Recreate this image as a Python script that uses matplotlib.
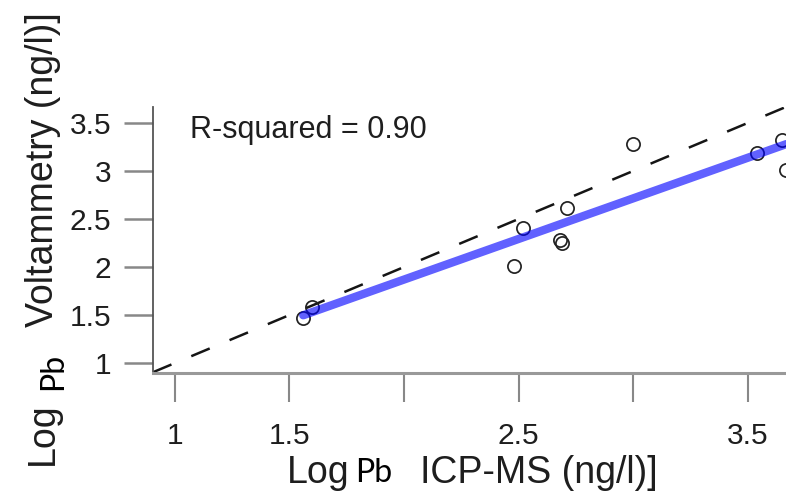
import matplotlib
matplotlib.use("Agg")
import matplotlib.pyplot as plt
import numpy as np

# ---- data ----
icpms = np.array([1.56, 1.60, 2.48, 2.52, 2.68, 2.69, 2.71, 3.00, 3.54, 3.65, 3.67])
voltam = np.array([1.47, 1.58, 2.01, 2.41, 2.28, 2.25, 2.61, 3.28, 3.19, 3.32, 3.01])
x_ticks = [1, 1.5, 2, 2.5, 3, 3.5]
x_ticklabels = ["1", "1.5", "", "2.5", "", "3.5"]
y_ticks = [1, 1.5, 2, 2.5, 3, 3.5]
y_ticklabels = ["1", "1.5", "2", "2.5", "3", "3.5"]
r2_text = "R-squared = 0.90"

W, H = 786, 495
fig = plt.figure(figsize=(W / 100, H / 100), dpi=100)
fig.patch.set_facecolor("white")


def fx(px):
    return px / W


def fy(py):
    return 1 - py / H


ax = fig.add_axes([fx(153), fy(373), fx(786) - fx(153), fy(107) - fy(373)])
ax.set_xlim(0.904, 3.668)
ax.set_ylim(0.896, 3.667)

TXT = "#1e1e1e"
SANS = ["Liberation Sans", "DejaVu Sans"]

# identity line
ax.axline((1, 1), slope=1, color="#151515", lw=1.8, dashes=(8, 8.6), zorder=2)

# points
ax.plot(icpms, voltam, linestyle="none", marker="o", ms=9.5, mfc="none",
        mec="#222222", mew=1.25, zorder=3)

# regression line
coef = np.polyfit(icpms, voltam, 1)
xs = np.array([icpms.min(), icpms.max()])
ax.plot(xs, np.polyval(coef, xs), color="blue", alpha=0.62, lw=6,
        solid_capstyle="round", zorder=4)

ax.text(1.066, 3.43, r2_text, fontsize=22, family=SANS, color=TXT,
        ha="left", va="center")

# axes styling
for s in ["top", "right"]:
    ax.spines[s].set_visible(False)
ax.spines["left"].set_color("#555555")
ax.spines["left"].set_linewidth(1.3)
ax.spines["bottom"].set_color("#999999")
ax.spines["bottom"].set_linewidth(2.2)

ax.set_xticks(x_ticks)
ax.set_xticklabels(x_ticklabels, family=SANS, fontsize=21.5, color=TXT)
ax.set_yticks(y_ticks)
ax.set_yticklabels(y_ticklabels, family=SANS, fontsize=21.5, color=TXT)
ax.tick_params(axis="x", length=21, width=1.5, color="#888888", pad=14)
ax.tick_params(axis="y", length=21, width=1.8, color="#888888", pad=9)

# ---- axis labels (pieces, with the pasted "Pb") ----
LBL = 27
PB_FONT = ["Lato", "DejaVu Sans"]

# x label
fig.text(fx(287), fy(483), "Log", fontsize=LBL, family=SANS, color=TXT,
         ha="left", va="baseline")
fig.text(fx(420), fy(483), "ICP-MS (ng/l)]", fontsize=LBL, family=SANS,
         color=TXT, ha="left", va="baseline")
fig.text(fx(374), fy(482), "Pb", fontsize=23, family=PB_FONT, color="black",
         ha="center", va="baseline")

# y label (rotated)
fig.text(fx(53), fy(465), "Log", fontsize=LBL, family=SANS, color=TXT,
         rotation=90, rotation_mode="anchor", ha="left", va="baseline")
fig.text(fx(53), fy(327), "Voltammetry (ng/l)]", fontsize=LBL, family=SANS,
         color=TXT, rotation=90, rotation_mode="anchor", ha="left",
         va="baseline")
fig.text(fx(62), fy(371), "Pb", fontsize=23, family=PB_FONT, color="black",
         rotation=90, rotation_mode="anchor", ha="center", va="baseline")

fig.savefig("out.png", dpi=100, facecolor="white")
